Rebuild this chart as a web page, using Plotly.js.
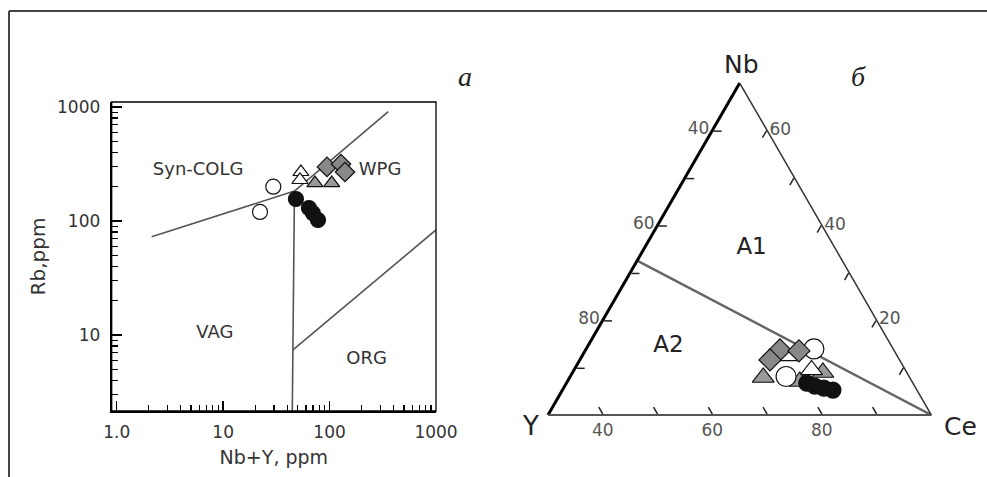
<!DOCTYPE html>
<html>
<head>
<meta charset="utf-8">
<script src="https://cdn.plot.ly/plotly-3.0.1.min.js"></script>
<style>html,body{margin:0;padding:0;background:#fff;}#chart{width:987px;height:477px;}</style>
</head>
<body>
<div id="chart"></div>
<script>
// ---------- Panel a: Rb vs Nb+Y (log-log) ----------
var openCircleX = [29.6, 22.2];
var openCircleY = [200, 120];
var blackCircleX = [48.3, 64, 69.8, 77.8];
var blackCircleY = [156, 130, 117, 102];
var whiteTriX = [53.8, 52.7];
var whiteTriY = [269, 229];
var grayTriX = [72.9, 104.7];
var grayTriY = [215, 215];
var diamondX = [94.6, 128, 139.6];
var diamondY = [298, 316, 269];

// field boundaries
var bndSynVagX = [2.13, 46.8];
var bndSynVagY = [72.8, 183];
var bndSynWpgX = [46.8, 356];
var bndSynWpgY = [183, 910];
var bndVagWpgX = [46.8, 44.6];
var bndVagWpgY = [183, 2];
var bndOrgX = [45.3, 1000];
var bndOrgY = [7.4, 83.4];

var fieldNames = ['Syn-COLG', 'WPG', 'VAG', 'ORG'];
var fieldX = [5.83, 298, 8.37, 223];
var fieldY = [280, 280, 10.3, 6.1];

var xTickVals = [1, 10, 100, 1000];
var xTickText = ['1.0', '10', '100', '1000'];
var xMinorVals = [2,3,4,5,6,7,8,9,20,30,40,50,60,70,80,90,200,300,400,500,600,700,800,900];
var yTickVals = [10, 100, 1000];
var yTickText = ['10', '100', '1000'];
var yMinorVals = [3,4,5,6,7,8,9,20,30,40,50,60,70,80,90,200,300,400,500,600,700,800,900];

// ---------- Panel б: Nb - Y - Ce ternary ----------
var triDiamondNb = [19.6, 16.6, 19.3];
var triDiamondY  = [29.7, 33.8, 24.9];
var triDiamondCe = [50.7, 49.6, 55.8];
var triGrayTriNb = [11.3, 10.1, 12.8];
var triGrayTriY  = [38.2, 29.3, 21.9];
var triGrayTriCe = [50.5, 60.7, 65.3];
var triWhiteTriNb = [13.6, 17.8];
var triWhiteTriY  = [24.5, 28.7];
var triWhiteTriCe = [62.0, 53.6];
var triOpenCircNb = [11.6, 19.9];
var triOpenCircY  = [32.1, 20.7];
var triOpenCircCe = [56.3, 59.4];
var triBlackCircNb = [9.6, 8.7, 8.1, 7.5];
var triBlackCircY  = [27.7, 26.0, 24.0, 21.9];
var triBlackCircCe = [62.7, 65.2, 67.9, 70.5];

var a12LineNb = [46.5, 0];
var a12LineY  = [53.5, 0];
var a12LineCe = [0, 100];

var triFieldNames = ['A1', 'A2'];
var triFieldNb = [50.2, 20.6];
var triFieldY  = [21.8, 58.3];
var triFieldCe = [28.0, 21.1];

var triTickVals = [85.714, 71.429, 57.143, 42.857, 28.571, 14.286];
var aTickText = ['40', '', '60', '', '80', ''];
var bTickText = ['40', '', '60', '', '80', ''];
var cTickValsR = [14.286, 28.571, 42.857, 57.143, 71.429, 85.714];
var cTickText = ['60', '', '40', '', '20', ''];

var SANS = 'DejaVu Sans, Arial, sans-serif';
var lineCol = '#555';
var edge = {color: '#111', width: 1.2};

function mk(x, y, sym, size, fill) {
  return {type: 'scatter', mode: 'markers', x: x, y: y, xaxis: 'x', yaxis: 'y',
    hoverinfo: 'skip', cliponaxis: false,
    marker: {symbol: sym, size: size, color: fill, line: edge}};
}
function ln(x, y) {
  return {type: 'scatter', mode: 'lines', x: x, y: y, xaxis: 'x', yaxis: 'y',
    hoverinfo: 'skip', line: {color: lineCol, width: 1.6}};
}
function tmk(a, b, c, sym, size, fill) {
  return {type: 'scatterternary', mode: 'markers', a: a, b: b, c: c, subplot: 'ternary',
    hoverinfo: 'skip', cliponaxis: false,
    marker: {symbol: sym, size: size, color: fill, line: edge}};
}

var data = [
  ln(bndSynVagX, bndSynVagY),
  ln(bndSynWpgX, bndSynWpgY),
  ln(bndVagWpgX, bndVagWpgY),
  ln(bndOrgX, bndOrgY),
  {type: 'scatter', mode: 'text', x: fieldX, y: fieldY, text: fieldNames, hoverinfo: 'skip',
   textfont: {family: SANS, size: 18, color: '#333'}},
  mk(openCircleX, openCircleY, 'circle', 15, '#fff'),
  mk(whiteTriX, whiteTriY, 'triangle-up', 14, '#fff'),
  mk(grayTriX, grayTriY, 'triangle-up', 14, '#999'),
  mk(diamondX, diamondY, 'diamond', 15, '#888'),
  mk(blackCircleX, blackCircleY, 'circle', 15, '#111'),

  {type: 'scatterternary', mode: 'lines', a: a12LineNb, b: a12LineY, c: a12LineCe, subplot: 'ternary',
   hoverinfo: 'skip', line: {color: '#666', width: 2.5}},
  {type: 'scatterternary', mode: 'text', a: triFieldNb, b: triFieldY, c: triFieldCe, text: triFieldNames,
   subplot: 'ternary', hoverinfo: 'skip', textfont: {family: SANS, size: 23, color: '#222'}},
  tmk(triGrayTriNb, triGrayTriY, triGrayTriCe, 'triangle-up', 19, '#999'),
  tmk(triOpenCircNb, triOpenCircY, triOpenCircCe, 'circle', 20, '#fff'),
  tmk(triWhiteTriNb, triWhiteTriY, triWhiteTriCe, 'triangle-up', 19, '#fff'),
  tmk(triDiamondNb, triDiamondY, triDiamondCe, 'diamond', 17, '#888'),
  tmk(triBlackCircNb, triBlackCircY, triBlackCircCe, 'circle', 16, '#111')
];

var tfont = {family: SANS, size: 17, color: '#333'};
var ttfont = {family: SANS, size: 17, color: '#555'};
function tern(vals, txt, lw, lc) {
  return {tickmode: 'array', tickvals: vals, ticktext: txt, ticks: 'inside', ticklen: 8,
    tickwidth: 1.5, tickcolor: '#222', linecolor: lc, linewidth: lw, showgrid: false,
    tickfont: ttfont, showline: true, min: 0, title: {text: ''}};
}

var P = function (px) { return px / 987; };
var Q = function (py) { return 1 - py / 477; };

var layout = {
  width: 987, height: 477,
  margin: {l: 0, r: 0, t: 0, b: 0},
  paper_bgcolor: '#fff', plot_bgcolor: '#fff',
  showlegend: false,
  xaxis: {
    domain: [P(111.7), P(436)], type: 'log', range: [-0.047, 3],
    tickmode: 'array', tickvals: xTickVals, ticktext: xTickText,
    ticks: 'inside', ticklen: 10, tickwidth: 1.5, tickcolor: '#000',
    minor: {tickmode: 'array', tickvals: xMinorVals, ticks: 'inside', ticklen: 6, tickwidth: 1.3, tickcolor: '#000'},
    showline: true, linewidth: 2, linecolor: '#000', showgrid: false, zeroline: false,
    tickfont: tfont, ticklabelstandoff: 5,
    title: {text: 'Nb+Y, ppm', font: {family: SANS, size: 19, color: '#333'}, standoff: 9}
  },
  yaxis: {
    domain: [Q(411), Q(102)], type: 'log', range: [0.333, 3.044],
    tickmode: 'array', tickvals: yTickVals, ticktext: yTickText,
    ticks: 'inside', ticklen: 10, tickwidth: 1.5, tickcolor: '#000',
    minor: {tickmode: 'array', tickvals: yMinorVals, ticks: 'inside', ticklen: 6, tickwidth: 1.3, tickcolor: '#000'},
    showline: true, linewidth: 2, linecolor: '#000', showgrid: false, zeroline: false,
    tickfont: tfont, ticklabelstandoff: 6,
    title: {text: 'Rb,ppm', font: {family: SANS, size: 20, color: '#333'}, standoff: 6}
  },
  ternary: {
    domain: {x: [P(547.7), P(931.7)], y: [Q(415), Q(83)]},
    sum: 100, bgcolor: '#fff',
    aaxis: tern(triTickVals, aTickText, 3, '#000'),
    baxis: tern(triTickVals, bTickText, 2, '#555'),
    caxis: tern(cTickValsR, cTickText, 1.5, '#333')
  },
  shapes: [
    {type: 'rect', xref: 'x domain', yref: 'y domain', x0: 0, x1: 1, y0: 0, y1: 1,
     line: {color: '#000', width: 1.3}},
    {type: 'line', xref: 'paper', yref: 'paper', x0: P(9), x1: 1, y0: Q(11), y1: Q(11),
     line: {color: '#444', width: 2}},
    {type: 'line', xref: 'paper', yref: 'paper', x0: P(9), x1: P(9), y0: Q(11), y1: 0,
     line: {color: '#444', width: 2}}
  ],
  annotations: [
    {xref: 'paper', yref: 'paper', x: P(741), y: Q(64), text: 'Nb', showarrow: false,
     xanchor: 'center', yanchor: 'middle', font: {family: SANS, size: 25, color: '#222'}},
    {xref: 'paper', yref: 'paper', x: P(530), y: Q(426), text: 'Y', showarrow: false,
     xanchor: 'center', yanchor: 'middle', font: {family: SANS, size: 26, color: '#222'}},
    {xref: 'paper', yref: 'paper', x: P(960), y: Q(426), text: 'Ce', showarrow: false,
     xanchor: 'center', yanchor: 'middle', font: {family: SANS, size: 25, color: '#222'}},
    {xref: 'paper', yref: 'paper', x: P(465), y: Q(76), text: '<i>а</i>', showarrow: false,
     xanchor: 'center', yanchor: 'middle', font: {family: 'Liberation Serif, Times New Roman, serif', size: 28, color: '#222'}},
    {xref: 'paper', yref: 'paper', x: P(858), y: Q(76), text: '<i>б</i>', showarrow: false,
     xanchor: 'center', yanchor: 'middle', font: {family: 'Liberation Serif, Times New Roman, serif', size: 28, color: '#222'}}
  ]
};

Plotly.newPlot('chart', data, layout, {staticPlot: true, displayModeBar: false});
</script>
</body>
</html>
